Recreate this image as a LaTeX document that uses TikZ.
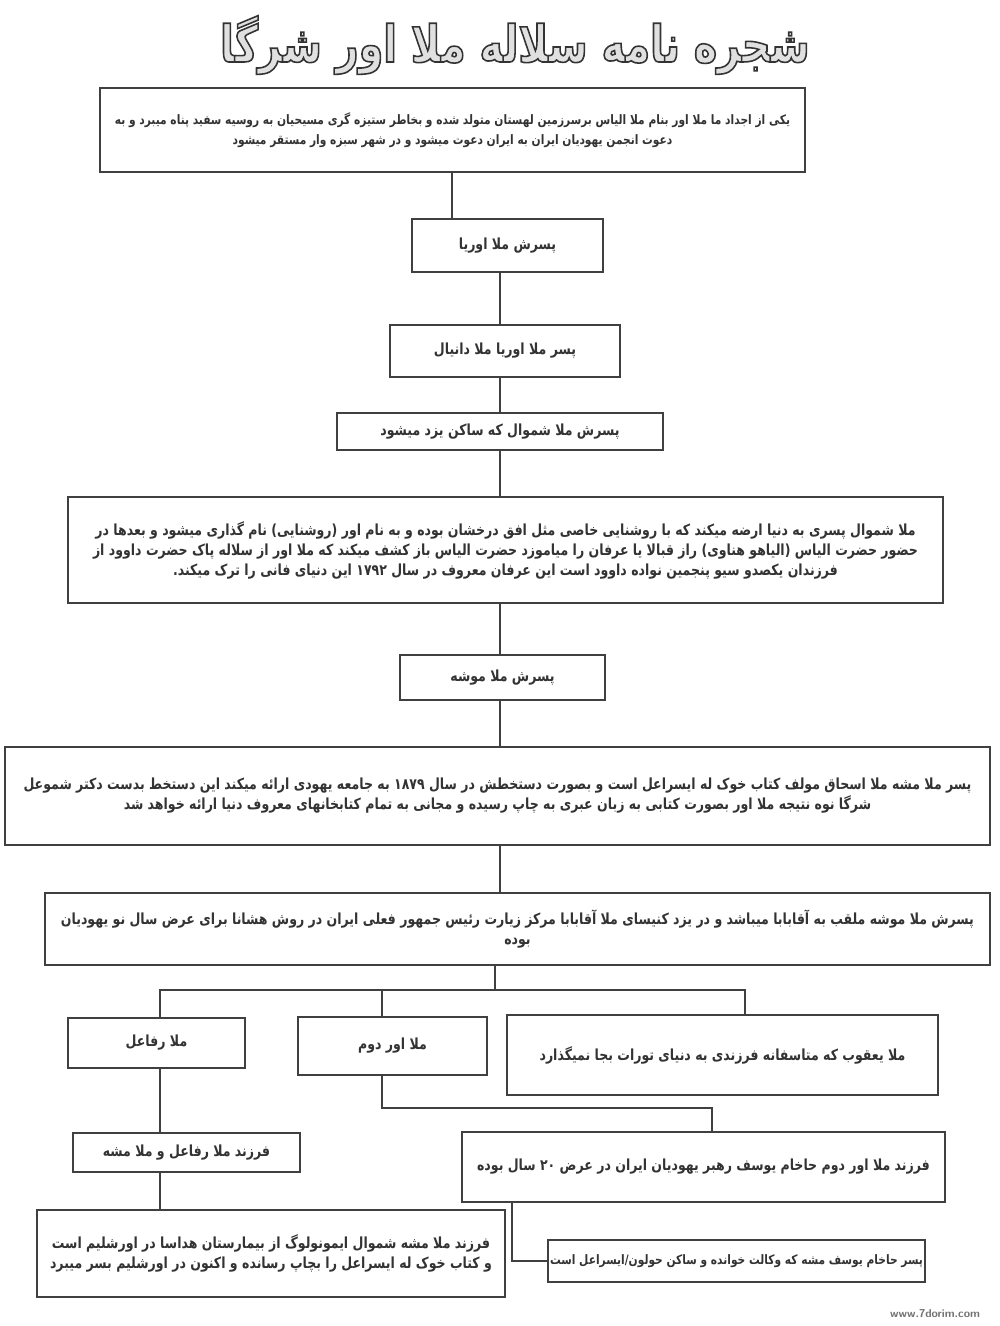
\documentclass[tikz,border=0pt]{standalone}
\usepackage{fontspec}
\newfontfamily\arabicfont[Script=Arabic,FakeStretch=0.82]{DejaVu Sans}
\newfontfamily\titlefont[Script=Arabic,FakeStretch=0.78]{DejaVu Sans}
\TeXXeTstate=1
\usetikzlibrary{positioning}
\newcommand\fa[1]{\beginR #1\endR}
\newcommand\faNum[1]{\beginL #1\endL{}}
\newcommand\outl[1]{\special{pdf:literal direct 2 Tr 0.9 w 0.2 G}#1\special{pdf:literal direct 0 Tr}}
\tikzset{
  tbox/.style 2 args={draw=black!75, line width=0.9pt, minimum width=#1*0.02cm,
    minimum height=#2*0.02cm, inner sep=0pt, align=center, text=black!80,
    font={\arabicfont\bfseries\fontsize{8.7}{11.4}\selectfont}},
  small/.style={font={\arabicfont\bfseries\fontsize{7.4}{11.2}\selectfont}},
  link/.style={draw=black!75, line width=0.9pt}
}
\begin{document}
\begin{tikzpicture}[x=0.02cm,y=-0.02cm]
\useasboundingbox[fill=white] (0,0) rectangle (1000,1326);
\node[text=black!12,font={\titlefont\bfseries\fontsize{29}{32}\selectfont}] (title) at (515,45) {\outl{\fa{شجره نامه سلاله ملا اور شرگا}}};
\node[tbox={705}{84},small] (b1) at (452.5,130) {\fa{یکی از اجداد ما ملا اور بنام ملا الیاس برسرزمین لهستان متولد شده و بخاطر ستیزه گری مسیحیان به روسیه سفید پناه میبرد و به}\\\fa{دعوت انجمن یهودیان ایران به ایران دعوت میشود و در شهر سبزه وار مستقر میشود}};
\node[tbox={191}{53}] (b2) at (507.5,245.5) {\fa{پسرش ملا اوریا}};
\node[tbox={230}{52}] (b3) at (505,351) {\fa{پسر ملا اوریا ملا دانیال}};
\node[tbox={326}{37}] (b4) at (500,431.5) {\fa{پسرش ملا شموال  که ساکن یزد میشود}};
\node[tbox={875}{106}] (b5) at (505.5,550) {\fa{ملا شموال پسری به دنیا ارضه میکند که با روشنایی خاصی مثل افق درخشان بوده و به نام اور (روشنایی) نام گذاری میشود و بعدها در}\\\fa{حضور حضرت الیاس (الیاهو هناوی) راز قبالا یا عرفان را میاموزد حضرت الیاس باز کشف میکند که ملا اور از سلاله پاک حضرت داوود از}\\\fa{فرزندان یکصدو سیو پنجمین نواده  داوود است این عرفان معروف در سال \faNum{۱۷۹۲} این دنیای فانی را ترک میکند.}};
\node[tbox={205}{45}] (b6) at (502.5,677.5) {\fa{پسرش ملا موشه}};
\node[tbox={985}{98}] (b7) at (497.5,796) {\fa{پسر ملا مشه ملا اسحاق مولف کتاب خوک له ایسراعل است و بصورت دستخطش در سال \faNum{۱۸۷۹} به جامعه یهودی  ارائه میکند این دستخط بدست دکتر شموعل}\\\fa{شرگا نوه نتیجه ملا اور بصورت کتابی به زبان عبری به چاپ رسیده و مجانی به تمام کتابخانهای معروف دنیا ارائه خواهد شد}};
\node[tbox={945}{72}] (b8) at (517.5,929) {\fa{پسرش ملا موشه ملقب به آقابابا میباشد و در یزد کنیسای ملا آقابابا مرکز زیارت رئیس جمهور فعلی ایران در روش هشانا  برای عرض سال نو  یهودیان}\\\fa{بوده}};
\node[tbox={177}{50}] (b9) at (156.5,1043) {\fa{ملا رفاعل}};
\node[tbox={189}{58}] (b10) at (392.5,1046) {\fa{ملا اور دوم}};
\node[tbox={431}{80}] (b11) at (722.5,1055) {\fa{ملا یعقوب که  متاسفانه فرزندی به دنیای تورات بجا نمیگذارد}};
\node[tbox={227}{39}] (b12) at (186.5,1152.5) {\fa{فرزند ملا رفاعل و ملا مشه}};
\node[tbox={483}{70}] (b13) at (703.5,1167) {\fa{فرزند ملا اور دوم حاخام یوسف رهبر یهودیان ایران در عرض \faNum{۲۰} سال بوده}};
\node[tbox={468}{87}] (b14) at (271,1253.5) {\fa{فرزند ملا مشه شموال ایمونولوگ از بیمارستان  هداسا در اورشلیم است}\\\fa{و کتاب خوک له ایسراعل را بچاپ رسانده و اکنون در اورشلیم بسر میبرد}};
\node[tbox={377}{42},small] (b15) at (736.5,1261) {\fa{پسر حاخام یوسف مشه که وکالت خوانده و ساکن حولون/ایسراعل است}};
\node[text=black!55,font={\sffamily\bfseries\fontsize{6.5}{7}\selectfont}] (site) at (935,1314) {www.7dorim.com};
\coordinate (trunk1) at (452,0);
\coordinate (trunk) at (500,0);
\draw[link] (b1.south -| trunk1) -- (b2.north -| trunk1);
\foreach \a/\b in {b2/b3,b3/b4,b4/b5,b5/b6,b6/b7,b7/b8}
  \draw[link] (\a.south -| trunk) -- (\b.north -| trunk);
\coordinate (fork) at (495,990);
\coordinate (left) at (160,0);
\coordinate (mid) at (382,0);
\coordinate (right) at (745,0);
\draw[link] (b8.south -| fork) -- (fork);
\draw[link] (b9.north -| left) |- (fork) -| (b11.north -| right);
\draw[link] (fork -| mid) -- (b10.north -| mid);
\draw[link] (b9.south -| left) -- (b12.north -| left);
\draw[link] (b12.south -| left) -- (b14.north -| left);
\coordinate (bend) at (712,1108);
\draw[link] (b10.south -| mid) |- (bend) -- (b13.north -| bend);
\coordinate (drop) at (512,0);
\draw[link] (b13.south -| drop) |- (b15.west);
\end{tikzpicture}
\end{document}
